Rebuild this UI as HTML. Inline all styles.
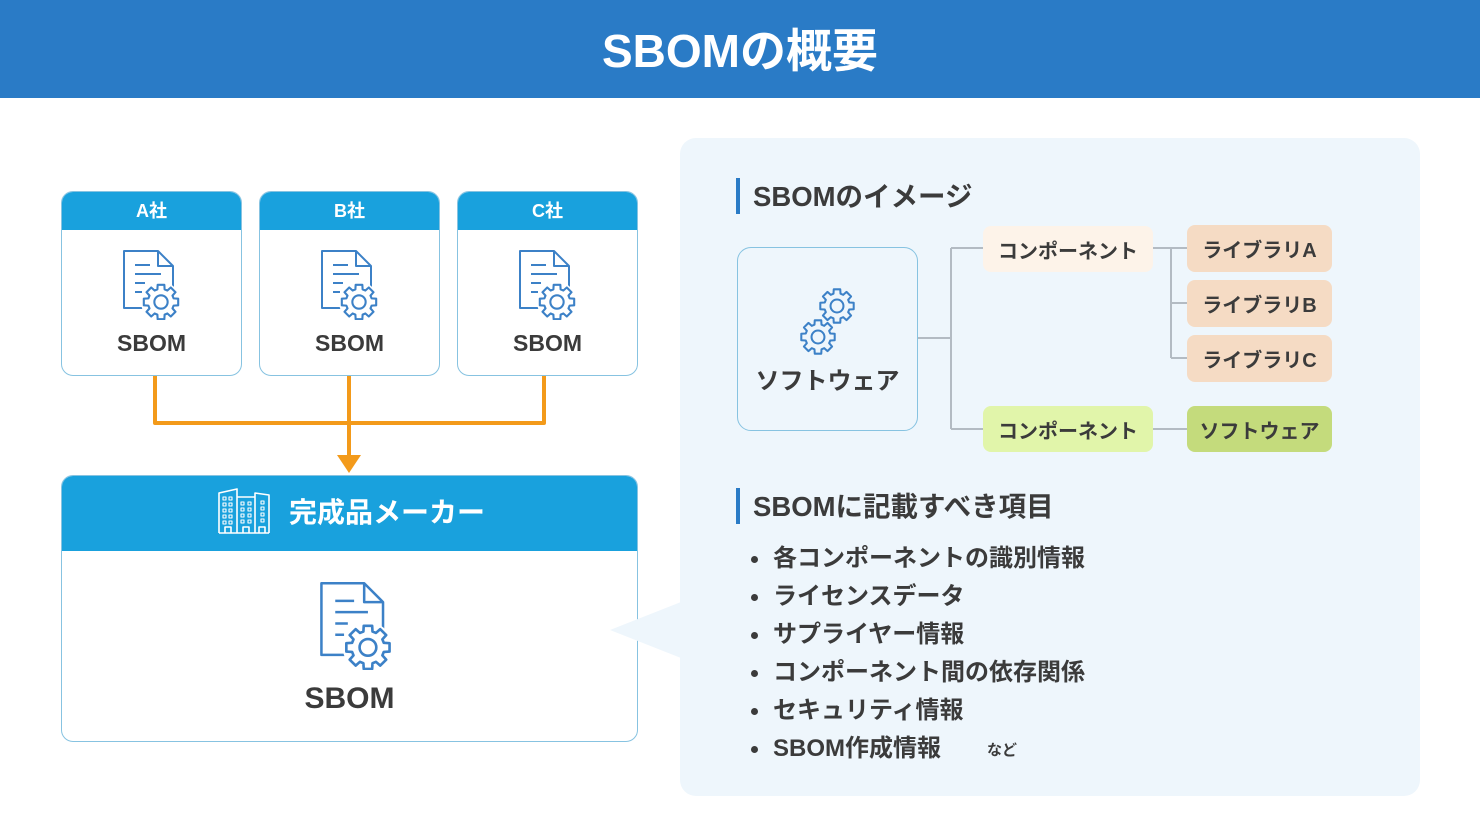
<!DOCTYPE html>
<html><head><meta charset="utf-8">
<style>
*{box-sizing:border-box;margin:0;padding:0}
html,body{width:1480px;height:840px;overflow:hidden;background:#fff}
body{position:relative;font-family:"Liberation Sans","Noto Sans CJK JP",sans-serif;font-weight:bold;color:#3b3b3b}
.a{position:absolute}
.c{position:absolute;display:flex;align-items:center;justify-content:center;white-space:nowrap}
.card{position:absolute;border:1.5px solid #87c3e1;border-radius:12px;overflow:hidden;background:#fff}
.band{position:absolute;left:0;top:0;width:100%;background:#19a1dd}
.box{position:absolute;border-radius:8px;display:flex;align-items:center;justify-content:center;font-size:20px;white-space:nowrap}
.li{position:absolute;left:773px;font-size:24px;line-height:30px;white-space:nowrap}
.dot{position:absolute;left:751px;width:7px;height:7px;border-radius:50%;background:#3b3b3b}
</style></head><body>

<!-- header -->
<div class="a" style="left:0;top:0;width:1480px;height:98px;background:#2a7bc6"></div>
<div class="c" style="left:0;top:0;width:1480px;height:96px;color:#fff;font-size:46px">SBOMの概要</div>

<!-- small cards -->
<div class="card" style="left:61px;top:191px;width:181px;height:185px"><div class="band" style="height:38px"></div></div>
<div class="card" style="left:259px;top:191px;width:181px;height:185px"><div class="band" style="height:38px"></div></div>
<div class="card" style="left:457px;top:191px;width:181px;height:185px"><div class="band" style="height:38px"></div></div>

<!-- big box -->
<div class="card" style="left:61px;top:475px;width:577px;height:267px"><div class="band" style="height:75px"></div></div>

<!-- right panel -->
<div class="a" style="left:680px;top:138px;width:740px;height:658px;background:#eef6fc;border-radius:16px"></div>
<div class="a" style="left:737px;top:247px;width:181px;height:184px;border:1.5px solid #87c3e1;border-radius:14px"></div>

<div class="box" style="left:983px;top:226px;width:170px;height:46px;background:#fdf3e9">コンポーネント</div>
<div class="box" style="left:983px;top:406px;width:170px;height:46px;background:#e1f5aa">コンポーネント</div>
<div class="box" style="left:1187px;top:225px;width:145px;height:47px;background:#f5dbc4">ライブラリA</div>
<div class="box" style="left:1187px;top:280px;width:145px;height:47px;background:#f5dbc4">ライブラリB</div>
<div class="box" style="left:1187px;top:335px;width:145px;height:47px;background:#f5dbc4">ライブラリC</div>
<div class="box" style="left:1187px;top:406px;width:145px;height:46px;background:#c4db7c">ソフトウェア</div>

<svg class="a" style="left:0;top:0" width="1480" height="840" viewBox="0 0 1480 840">
<defs>
<symbol id="g" viewBox="-11 -11 22 22">
<polygon fill="none" stroke="#3c81c7" stroke-width="1.2" stroke-linejoin="round" points="7.21,-2.07 9.82,-1.91 9.82,1.91 7.21,2.07 6.56,3.64 8.29,5.59 5.59,8.29 3.64,6.56 2.07,7.21 1.91,9.82 -1.91,9.82 -2.07,7.21 -3.64,6.56 -5.59,8.29 -8.29,5.59 -6.56,3.64 -7.21,2.07 -9.82,1.91 -9.82,-1.91 -7.21,-2.07 -6.56,-3.64 -8.29,-5.59 -5.59,-8.29 -3.64,-6.56 -2.07,-7.21 -1.91,-9.82 1.91,-9.82 2.07,-7.21 3.64,-6.56 5.59,-8.29 8.29,-5.59 6.56,-3.64"/>
<circle cx="0" cy="0" r="3.8" fill="none" stroke="#3c81c7" stroke-width="1.2"/>
</symbol>
<symbol id="d" viewBox="0 0 57 70">
<g fill="none" stroke="#3c81c7" stroke-width="2" stroke-linejoin="round">
<path d="M1 1 H35 L50 16 V58 H1 Z"/>
<path d="M35 1 V16 H50"/>
<path d="M12 15 H27 M12 24 H38 M12 33 H22 M12 42 H19"/>
</g>
<circle cx="38" cy="52" r="20" fill="#fff"/>
<use href="#g" x="18.75" y="32.75" width="38.5" height="38.5"/>
</symbol>
</defs>

<!-- orange connectors -->
<path d="M155 376 V423 H544 V376" fill="none" stroke="#f39a1a" stroke-width="4" stroke-linejoin="round"/>
<path d="M349 376 V457" fill="none" stroke="#f39a1a" stroke-width="4"/>
<polygon points="337,455 361,455 349,473" fill="#f39a1a"/>

<!-- doc icons -->
<use href="#d" x="123" y="250" width="57" height="70"/>
<use href="#d" x="321" y="250" width="57" height="70"/>
<use href="#d" x="519" y="250" width="57" height="70"/>
<use href="#d" x="320" y="582" width="72" height="88"/>

<!-- building icon -->
<g transform="translate(218,488)" fill="none" stroke="#fff" stroke-width="1.6" stroke-linejoin="round">
<path d="M1 45 V5 L19 1 V45 M19 45 V9 H37 V45 M37 45 V5 L51 7 V45 M1 45 H51"/>
<path d="M7 45 V39 H13 V45 M25 45 V39 H31 V45 M41 45 V39 H47 V45"/>
<g stroke-width="1.1">
<rect x="5" y="9" width="3" height="3"/><rect x="11" y="9" width="3" height="3"/>
<rect x="5" y="15" width="3" height="3"/><rect x="11" y="15" width="3" height="3"/>
<rect x="5" y="21" width="3" height="3"/><rect x="11" y="21" width="3" height="3"/>
<rect x="5" y="27" width="3" height="3"/><rect x="11" y="27" width="3" height="3"/>
<rect x="5" y="33" width="3" height="3"/><rect x="11" y="33" width="3" height="3"/>
<rect x="23" y="14" width="3" height="3"/><rect x="30" y="14" width="3" height="3"/>
<rect x="23" y="20" width="3" height="3"/><rect x="30" y="20" width="3" height="3"/>
<rect x="23" y="26" width="3" height="3"/><rect x="30" y="26" width="3" height="3"/>
<rect x="23" y="32" width="3" height="3"/><rect x="30" y="32" width="3" height="3"/>
<rect x="43" y="13" width="3" height="3"/><rect x="43" y="19" width="3" height="3"/>
<rect x="43" y="25" width="3" height="3"/><rect x="43" y="31" width="3" height="3"/>
</g>
</g>

<!-- callout pointer -->
<polygon points="681,602 610,630 681,658" fill="#eef6fc"/>

<!-- heading bars -->
<rect x="736" y="178" width="4" height="36" fill="#2a7bc6"/>
<rect x="736" y="488" width="4" height="36" fill="#2a7bc6"/>

<!-- gears in software box -->
<use href="#g" x="818.3" y="287.3" width="37.4" height="37.4"/>
<use href="#g" x="799.3" y="318.3" width="37.4" height="37.4"/>

<!-- gray connectors -->
<g fill="none" stroke="#b3bbc3" stroke-width="2">
<path d="M918 338 H951 M951 248 V429 M951 248 H983 M951 429 H983"/>
<path d="M1153 248 H1187 M1171 248 V358 M1171 303 H1187 M1171 358 H1187"/>
<path d="M1153 429 H1187"/>
</g>
</svg>

<!-- card texts -->
<div class="c" style="left:61px;top:191px;width:181px;height:38px;color:#fff;font-size:18px">A社</div>
<div class="c" style="left:259px;top:191px;width:181px;height:38px;color:#fff;font-size:18px">B社</div>
<div class="c" style="left:457px;top:191px;width:181px;height:38px;color:#fff;font-size:18px">C社</div>
<div class="c" style="left:61px;top:329px;width:181px;height:28px;font-size:23px">SBOM</div>
<div class="c" style="left:259px;top:329px;width:181px;height:28px;font-size:23px">SBOM</div>
<div class="c" style="left:457px;top:329px;width:181px;height:28px;font-size:23px">SBOM</div>

<div class="a" style="left:289px;top:495px;height:36px;line-height:36px;color:#fff;font-size:28px;white-space:nowrap">完成品メーカー</div>
<div class="c" style="left:61px;top:681px;width:577px;height:36px;font-size:30px">SBOM</div>

<!-- panel texts -->
<div class="a" style="left:753px;top:180px;height:33px;line-height:33px;font-size:27.5px;white-space:nowrap">SBOMのイメージ</div>
<div class="c" style="left:737px;top:362px;width:181px;height:32px;font-size:24px">ソフトウェア</div>
<div class="a" style="left:753px;top:490px;height:33px;line-height:33px;font-size:27.5px;white-space:nowrap">SBOMに記載すべき項目</div>

<div class="dot" style="top:556px"></div><div class="li" style="top:544px">各コンポーネントの識別情報</div>
<div class="dot" style="top:594px"></div><div class="li" style="top:582px">ライセンスデータ</div>
<div class="dot" style="top:632px"></div><div class="li" style="top:620px">サプライヤー情報</div>
<div class="dot" style="top:670px"></div><div class="li" style="top:658px">コンポーネント間の依存関係</div>
<div class="dot" style="top:708px"></div><div class="li" style="top:696px">セキュリティ情報</div>
<div class="dot" style="top:746px"></div><div class="li" style="top:734px">SBOM作成情報</div>
<div class="a" style="left:987px;top:741px;font-size:15px;line-height:20px;white-space:nowrap">など</div>

</body></html>
